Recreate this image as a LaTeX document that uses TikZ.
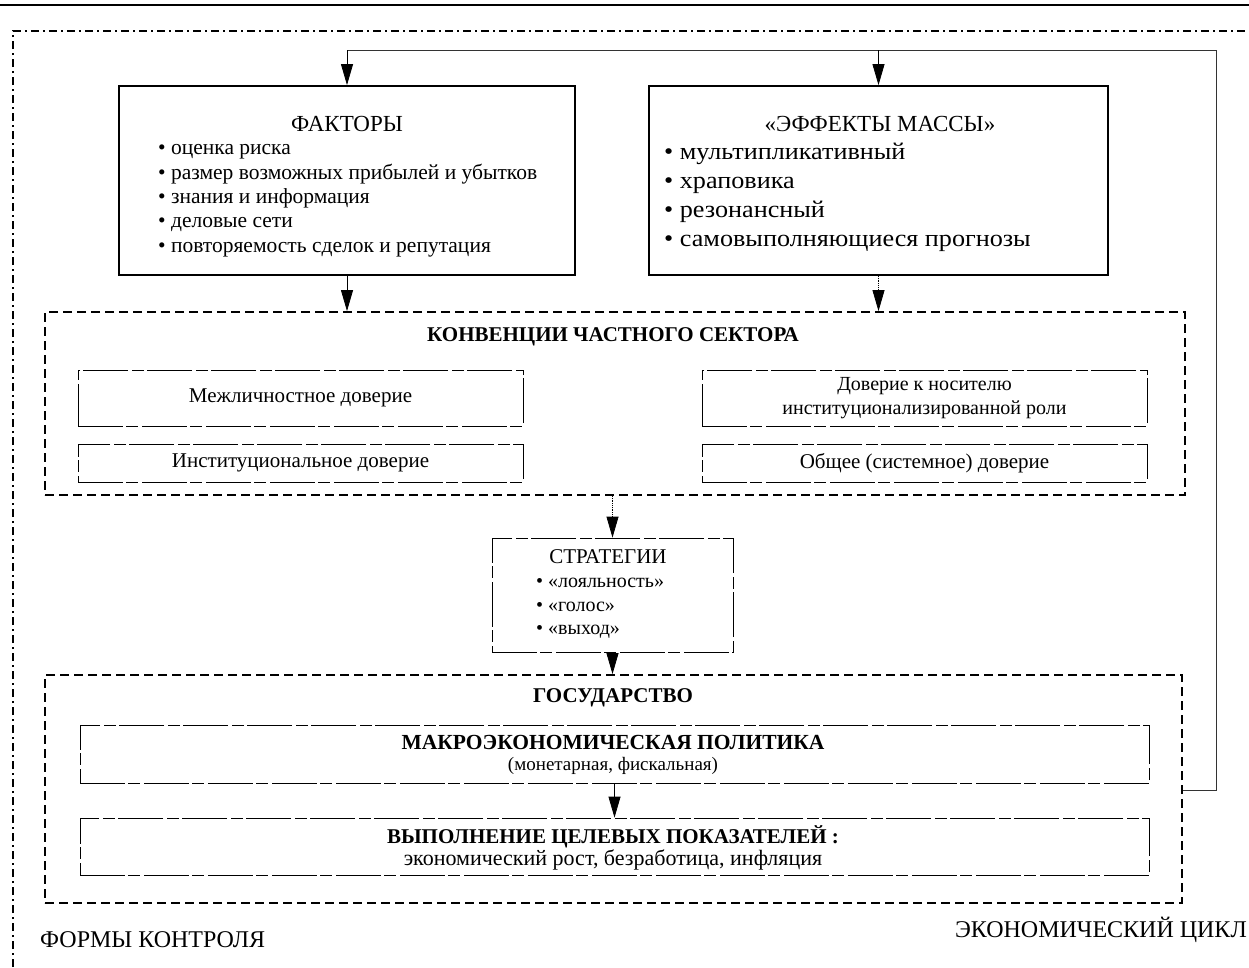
\documentclass[tikz,border=0pt]{standalone}
\usepackage{fontspec}
\setmainfont{Liberation Serif}
\newfontfamily\widefont[FakeStretch=1.09]{Liberation Serif}
\usetikzlibrary{arrows.meta,fit}
\begin{document}
\begin{tikzpicture}[x=1pt,y=-1pt,
  solidbox/.style={draw, line width=1.8pt, inner sep=0pt},
  dashbox/.style={draw, line width=1.8pt, dash pattern=on 9pt off 5pt, inner sep=0pt},
  thinbox/.style={draw, line width=0.8pt, dash pattern=on 45pt off 3pt on 12pt off 4pt, inner sep=0pt},
  ddline/.style={line width=1.6pt, dash pattern=on 8pt off 4pt on 2pt off 4pt},
  thinline/.style={line width=0.8pt, black!80},
  arr/.style={-{Triangle[width=12pt,length=21pt]}, line width=0.8pt},
  ttl/.style={font=\fontsize{23}{26}\selectfont, inner sep=0pt},
  ftxt/.style={font=\fontsize{21.5}{24}\selectfont, inner sep=0pt, anchor=base west},
  etxt/.style={font=\widefont\fontsize{24}{29}\selectfont, inner sep=0pt, anchor=base west},
  txt/.style={font=\fontsize{21}{24}\selectfont, inner sep=0pt},
  btxt/.style={font=\bfseries\fontsize{21}{24}\selectfont, inner sep=0pt},
  stxt/.style={font=\fontsize{19}{22}\selectfont, inner sep=0pt},
  lbl/.style={font=\fontsize{24}{27}\selectfont, inner sep=0pt}]
\useasboundingbox (0,0) rectangle (1249,967);
\fill[white] (0,0) rectangle (1249,967);

% header line and control-form frame
\coordinate (h1) at (0,5); \coordinate (h2) at (1249,5);
\draw[line width=1.5pt] (h1) -- (h2);
\coordinate (dd1) at (13,967); \coordinate (dd2) at (13,31); \coordinate (dd3) at (1249,31);
\draw[ddline] (dd1) -- (dd2) -- (dd3);

% boxes
\node[solidbox, fit={(119,86) (575,275)}] (fak) {};
\node[solidbox, fit={(649,86) (1108,275)}] (eff) {};
\node[dashbox, fit={(45,312) (1185,495)}] (konv) {};
\node[thinbox, fit={(78,370) (523,426)}] (mezh) {};
\node[thinbox, fit={(78,444) (523,482)}] (inst) {};
\node[thinbox, fit={(702,370) (1147,426)}] (rol) {};
\node[thinbox, fit={(702,444) (1147,482)}] (obsh) {};
\node[thinbox, fit={(492,538) (733,652)}] (strat) {};
\node[dashbox, fit={(45,675) (1182,903)}] (gos) {};
\node[thinbox, fit={(80,725) (1149,783)}] (makro) {};
\node[thinbox, fit={(80,818) (1149,875)}] (vyp) {};

% texts: factors
\node[ttl] (faktT) at (347,124) {ФАКТОРЫ};
\node[ftxt] (f1) at (158,154) {• оценка риска};
\node[ftxt] (f2) at (158,179) {• размер возможных прибылей и убытков};
\node[ftxt] (f3) at (158,203) {• знания и информация};
\node[ftxt] (f4) at (158,227) {• деловые сети};
\node[ftxt] (f5) at (158,252) {• повторяемость сделок и репутация};
% mass effects
\node[ttl] (effT) at (880,124) {«ЭФФЕКТЫ МАССЫ»};
\node[etxt] (e1) at (664,159) {• мультипликативный};
\node[etxt] (e2) at (664,188) {• храповика};
\node[etxt] (e3) at (664,217) {• резонансный};
\node[etxt] (e4) at (664,246) {• самовыполняющиеся прогнозы};
% conventions
\node[btxt] (konvT) at (613,337) {КОНВЕНЦИИ ЧАСТНОГО СЕКТОРА};
\node[txt] (mezhT) at (mezh.center) {Межличностное доверие};
\node[txt] (instT) at (inst.center) {Институциональное доверие};
\node[txt, align=center, font=\fontsize{20}{24}\selectfont] (rolT) at (rol.center) {Доверие к носителю\\институционализированной роли};
\node[txt] (obshT) at (obsh.center) {Общее (системное) доверие};
% strategies
\node[txt] (stratT) at (608,557) {СТРАТЕГИИ};
\node[stxt, font=\fontsize{20}{22}\selectfont, anchor=west] (s1) at (536,583) {• «лояльность»};
\node[stxt, font=\fontsize{20}{22}\selectfont, anchor=west] (s2) at (536,607) {• «голос»};
\node[stxt, font=\fontsize{20}{22}\selectfont, anchor=west] (s3) at (536,632) {• «выход»};
% state
\node[btxt] (gosT) at (613,698) {ГОСУДАРСТВО};
\node[btxt, font=\bfseries\fontsize{21.5}{24}\selectfont] (makroT) at (613,742) {МАКРОЭКОНОМИЧЕСКАЯ ПОЛИТИКА};
\node[stxt] (makroS) at (613,766) {(монетарная, фискальная)};
\node[btxt] (vypT) at (613,837) {ВЫПОЛНЕНИЕ ЦЕЛЕВЫХ ПОКАЗАТЕЛЕЙ :};
\node[stxt, font=\fontsize{22}{24}\selectfont] (vypS) at (613,860) {экономический рост, безработица, инфляция};
% bottom labels
\node[lbl, anchor=west] (formy) at (40,940) {ФОРМЫ КОНТРОЛЯ};
\node[lbl, anchor=east] (cikl) at (1247,930) {ЭКОНОМИЧЕСКИЙ ЦИКЛ};

% economic-cycle loop
\coordinate (lt) at (1216,50); \coordinate (lb) at (1216,790);
\draw[thinline] (gos.east |- lb) -- (lb) -- (lt) -- (fak.north |- lt);
\draw[arr] (fak.north |- lt) -- (fak.north);
\draw[arr] (eff.north |- lt) -- (eff.north);

% vertical flow arrows
\draw[arr] (fak.south) -- (fak.south |- konv.north);
\draw[arr, densely dotted] (eff.south) -- (eff.south |- konv.north);
\draw[arr, densely dotted] (strat.north |- konv.south) -- (strat.north);
\draw[arr] (strat.south) -- (strat.south |- gos.north);
\draw[arr] (makro.south) -- (makro.south |- vyp.north);
\end{tikzpicture}
\end{document}
